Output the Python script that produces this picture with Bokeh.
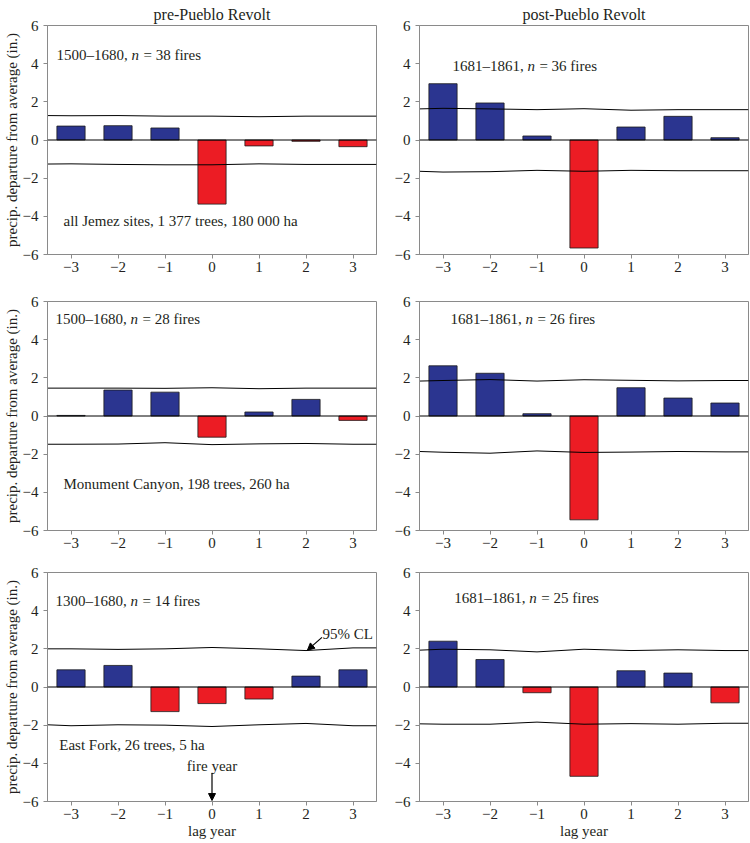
from bokeh.plotting import figure
from bokeh.layouts import column, row
from bokeh.models import Span, Label, FixedTicker, Arrow, NormalHead, Range1d, Title
from bokeh.embed import file_html
from bokeh.resources import INLINE

# ---------------- data ----------------
lags = [-3, -2, -1, 0, 1, 2, 3]
lag_tick_labels = ["\u22123", "\u22122", "\u22121", "0", "1", "2", "3"]
y_ticks = [-6, -4, -2, 0, 2, 4, 6]
y_tick_labels = ["\u22126", "\u22124", "\u22122", "0", "2", "4", "6"]

# CL lines are given at the frame edges and at each lag
cl_x = [-3.5, -3, -2, -1, 0, 1, 2, 3, 3.5]

# row 1: all Jemez sites
pre_all = [0.73, 0.75, 0.63, -3.36, -0.31, -0.07, -0.35]
pre_all_cl_up = [1.28, 1.27, 1.28, 1.25, 1.25, 1.22, 1.25, 1.25, 1.25]
pre_all_cl_lo = [-1.26, -1.25, -1.28, -1.30, -1.30, -1.25, -1.28, -1.28, -1.28]
post_all = [2.95, 1.94, 0.21, -5.66, 0.68, 1.24, 0.12]
post_all_cl_up = [1.63, 1.66, 1.63, 1.59, 1.64, 1.56, 1.59, 1.59, 1.59]
post_all_cl_lo = [-1.64, -1.68, -1.66, -1.59, -1.64, -1.59, -1.61, -1.61, -1.61]

# row 2: Monument Canyon
pre_mc = [0.03, 1.36, 1.25, -1.11, 0.21, 0.87, -0.23]
pre_mc_cl_up = [1.46, 1.46, 1.46, 1.45, 1.48, 1.43, 1.46, 1.46, 1.46]
pre_mc_cl_lo = [-1.48, -1.48, -1.47, -1.40, -1.50, -1.46, -1.44, -1.48, -1.48]
post_mc = [2.63, 2.24, 0.12, -5.44, 1.48, 0.94, 0.68]
post_mc_cl_up = [1.83, 1.86, 1.91, 1.83, 1.90, 1.87, 1.84, 1.86, 1.86]
post_mc_cl_lo = [-1.86, -1.90, -1.95, -1.83, -1.91, -1.89, -1.86, -1.88, -1.88]

# row 3: East Fork
pre_ef = [0.90, 1.13, -1.29, -0.87, -0.63, 0.57, 0.90]
pre_ef_cl_up = [2.00, 2.00, 1.97, 2.00, 2.07, 2.00, 1.91, 2.05, 2.05]
pre_ef_cl_lo = [-1.98, -2.03, -1.98, -2.00, -2.07, -1.98, -1.91, -2.03, -2.03]
post_ef = [2.40, 1.44, -0.30, -4.68, 0.85, 0.73, -0.83]
post_ef_cl_up = [1.93, 1.98, 1.95, 1.84, 1.98, 1.91, 1.95, 1.91, 1.91]
post_ef_cl_lo = [-1.93, -1.95, -1.95, -1.84, -1.95, -1.92, -1.95, -1.90, -1.90]

BLUE = "#2B3590"
RED = "#EC1C24"
AXIS_GRAY = "#8a8a8a"
TXT = "#231F20"
FONT = "Liberation Serif"
FS = "15px"

# (top, bottom) borders per row, per column
BORD = {
    (0, True): (25, 28), (0, False): (23, 29),
    (1, True): (18, 27), (1, False): (18, 27),
    (2, True): (14, 41), (2, False): (15, 40),
}


def make_panel(vals, cl_up, cl_lo, left, row_i, title=None, xlabel=None):
    mbt, mbb = BORD[(row_i, left)]
    p = figure(frame_width=329, frame_height=229,
               output_backend="svg", toolbar_location=None,
               x_range=Range1d(-3.5, 3.5), y_range=Range1d(-6, 6),
               min_border_left=46 if left else 40,
               min_border_right=3,
               min_border_top=mbt, min_border_bottom=mbb)
    p.background_fill_color = "white"
    p.border_fill_color = "white"
    p.grid.visible = False
    p.outline_line_color = AXIS_GRAY
    p.outline_line_width = 1
    if title:
        t = Title(text=title, align="center", text_font=FONT,
                  text_font_size="16px", text_font_style="normal",
                  text_color=TXT, standoff=6, offset=0)
        p.add_layout(t, "above")

    colors = [BLUE if v >= 0 else RED for v in vals]
    p.vbar(x=lags, top=vals, bottom=0, width=0.6, fill_color=colors,
           line_color="#1a1a1a", line_width=0.8)
    p.line(cl_x, cl_up, line_color="black", line_width=1)
    p.line(cl_x, cl_lo, line_color="black", line_width=1)
    p.add_layout(Span(location=0, dimension="width", line_color="black",
                      line_width=1))

    for ax in (p.xaxis[0], p.yaxis[0]):
        ax.axis_line_color = AXIS_GRAY
        ax.major_tick_line_color = AXIS_GRAY
        ax.minor_tick_line_color = None
        ax.major_tick_in = 0
        ax.major_tick_out = 4
        ax.major_label_text_font = FONT
        ax.major_label_text_font_size = FS
        ax.major_label_text_color = TXT
        ax.axis_label_text_font = FONT
        ax.axis_label_text_font_size = FS
        ax.axis_label_text_font_style = "normal"
        ax.axis_label_text_color = TXT
    p.xaxis.ticker = FixedTicker(ticks=lags)
    p.xaxis.major_label_overrides = {k: v for k, v in zip(lags, lag_tick_labels)}
    p.xaxis.major_label_standoff = 3
    p.yaxis.ticker = FixedTicker(ticks=y_ticks)
    p.yaxis.major_label_overrides = {k: v for k, v in zip(y_ticks, y_tick_labels)}
    p.yaxis.major_label_standoff = 5
    if left:
        p.yaxis.axis_label = "precip. departure from average (in.)"
        p.yaxis.axis_label_standoff = 0
    if xlabel:
        p.xaxis.axis_label = xlabel
        p.xaxis.axis_label_standoff = 1
    return p


def period_label(p, x, y, period, rest):
    common = dict(text_font=FONT, text_font_size=FS, text_color=TXT,
                  text_baseline="middle", text_align="left")
    p.add_layout(Label(x=x, y=y, text=period, **common))
    p.add_layout(Label(x=x, y=y, x_offset=75, text="n", text_font_style="italic",
                       **common))
    p.add_layout(Label(x=x, y=y, x_offset=87, text=rest, **common))


def note(p, x, y, text, align="left"):
    p.add_layout(Label(x=x, y=y, text=text, text_font=FONT,
                       text_font_size=FS, text_color=TXT,
                       text_baseline="middle", text_align=align))


p1 = make_panel(pre_all, pre_all_cl_up, pre_all_cl_lo, True, 0, title="pre-Pueblo Revolt")
p2 = make_panel(post_all, post_all_cl_up, post_all_cl_lo, False, 0, title="post-Pueblo Revolt")
p3 = make_panel(pre_mc, pre_mc_cl_up, pre_mc_cl_lo, True, 1)
p4 = make_panel(post_mc, post_mc_cl_up, post_mc_cl_lo, False, 1)
p5 = make_panel(pre_ef, pre_ef_cl_up, pre_ef_cl_lo, True, 2, xlabel="lag year")
p6 = make_panel(post_ef, post_ef_cl_up, post_ef_cl_lo, False, 2, xlabel="lag year")

period_label(p1, -3.31, 4.48, "1500\u20131680, ", "= 38 fires")
note(p1, -3.16, -4.23, "all Jemez sites, 1 377 trees, 180 000 ha")
period_label(p2, -2.80, 3.86, "1681\u20131861, ", "= 36 fires")

period_label(p3, -3.33, 5.08, "1500\u20131680, ", "= 28 fires")
note(p3, -3.16, -3.57, "Monument Canyon, 198 trees, 260 ha")
period_label(p4, -2.84, 5.08, "1681\u20131861, ", "= 26 fires")

period_label(p5, -3.33, 4.52, "1300\u20131680, ", "= 14 fires")
note(p5, -3.25, -3.04, "East Fork, 26 trees, 5 ha")
note(p5, 0, -4.16, "fire year", align="center")
p5.add_layout(Arrow(x_start=0, y_start=-4.5, x_end=0, y_end=-5.95,
                    line_color="black", line_width=1.2,
                    end=NormalHead(size=7, fill_color="black", line_color="black")))
note(p5, 2.35, 2.78, "95% CL")
p5.add_layout(Arrow(x_start=2.34, y_start=2.6, x_end=2.03, y_end=1.93,
                    line_color="black", line_width=1.2,
                    end=NormalHead(size=7, fill_color="black", line_color="black")))
period_label(p6, -2.76, 4.64, "1681\u20131861, ", "= 25 fires")

layout = column(row(p1, p2), row(p3, p4), row(p5, p6))

open("out.html", "w").write(file_html(layout, INLINE))
